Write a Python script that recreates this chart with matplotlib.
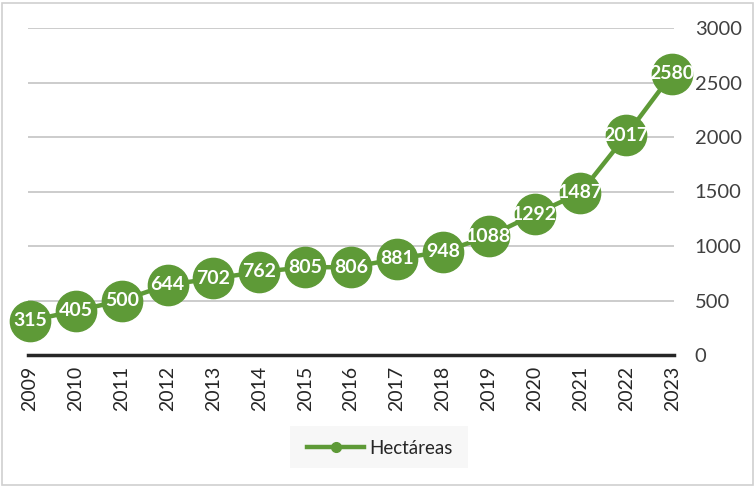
import matplotlib
matplotlib.use("Agg")
import matplotlib.pyplot as plt
from matplotlib.patches import Rectangle
from matplotlib.lines import Line2D

years = ["2009", "2010", "2011", "2012", "2013", "2014", "2015", "2016",
         "2017", "2018", "2019", "2020", "2021", "2022", "2023"]
hectareas = [315, 405, 500, 644, 702, 762, 805, 806, 881, 948, 1088, 1292, 1487, 2017, 2580]
yticks = [0, 500, 1000, 1500, 2000, 2500, 3000]
series_name = "Hectáreas"

green = "#5e9a37"
plt.rcParams['font.family'] = ['Lato', 'DejaVu Sans']

W, H = 756, 487
fig = plt.figure(figsize=(W / 100, H / 100), dpi=100)
# figure border
fig.patches.append(Rectangle((2 / W, 2 / H), (W - 5) / W, (H - 5) / H,
                             transform=fig.transFigure, fill=False,
                             edgecolor="#d0d0d0", linewidth=1.2))

left, right, top, bottom = 28, 674, 28, 355
ax = fig.add_axes([left / W, 1 - bottom / H, (right - left) / W, (bottom - top) / H])
x = list(range(len(years)))
ax.plot(x, hectareas, color=green, linewidth=3.2, marker="o", markersize=29,
        markerfacecolor=green, markeredgecolor=green, zorder=3, clip_on=False)
for xi, v in zip(x, hectareas):
    ax.text(xi, v, str(v), color="white", fontsize=14, fontweight="bold",
            ha="center", va="center", zorder=4)

ax.set_xlim(-0.044, 14.04)
ax.set_ylim(0, 3000)
ax.set_yticks(yticks)
ax.set_yticklabels([str(t) for t in yticks], fontsize=14.5, color="#404040")
ax.yaxis.tick_right()
ax.tick_params(axis="y", length=0, pad=15)
ax.set_xticks(x)
ax.set_xticklabels(years, rotation=90, fontsize=14, color="#262626")
ax.tick_params(axis="x", length=0, pad=8)
ax.grid(axis="y", color="#c4c4c4", linewidth=1.2, zorder=0)
for s in ["top", "left", "right"]:
    ax.spines[s].set_visible(False)
ax.spines["bottom"].set_color("#262626")
ax.spines["bottom"].set_linewidth(2.5)
ax.spines["bottom"].set_zorder(2)

# legend
fig.patches.append(Rectangle((290 / W, 1 - 468 / H), 178 / W, 42 / H,
                             transform=fig.transFigure, facecolor="#f7f7f7",
                             edgecolor="none"))
h = Line2D([], [], color=green, linewidth=3.2, marker="o", markersize=7)
leg = fig.legend([h], [series_name], loc="center", bbox_to_anchor=(380 / W, 1 - 448 / H),
                 frameon=False, fontsize=13.5, handlelength=3.0, handletextpad=0.3,
                 labelcolor="#262626")

fig.savefig("out.png", dpi=100)
